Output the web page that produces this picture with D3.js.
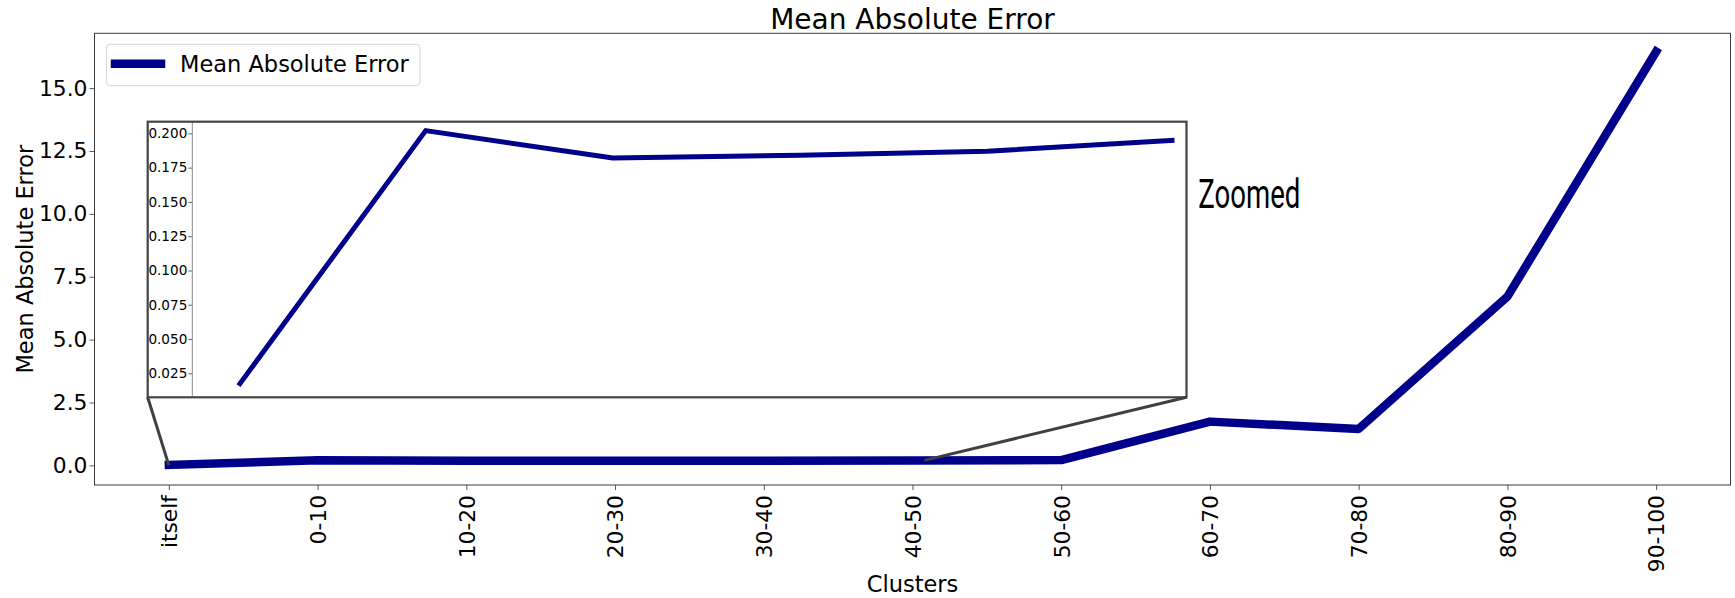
<!DOCTYPE html>
<html>
<head>
<meta charset="utf-8">
<script src="https://cdn.jsdelivr.net/npm/d3@7"></script>
<style>
  html, body { margin: 0; padding: 0; background: #fff; }
  svg { display: block; font-family: "DejaVu Sans", sans-serif; }
</style>
</head>
<body>
<svg id="chart" width="1735" height="598"></svg>
<script>
// Cluster buckets along the x axis
const categories = ["itself", "0-10", "10-20", "20-30", "30-40", "40-50",
                    "50-60", "60-70", "70-80", "80-90", "90-100"];
// Mean absolute error per cluster
const maeValues = [0.016, 0.202, 0.182, 0.184, 0.187, 0.195,
                   0.21, 1.74, 1.45, 6.71, 16.45];
// Main y-axis ticks
const yTicks = [0, 2.5, 5, 7.5, 10, 12.5, 15];
// Inset: the first clusters, magnified
const insetCount = 6;
const insetTicks = [0.025, 0.05, 0.075, 0.1, 0.125, 0.15, 0.175, 0.2];
// Region of the main axes that the inset magnifies (data units)
const zoomRegion = { x0: 0, y0: 0, x1: 5.08, y1: 0.2 };

const lineColor = "#00008b";
const svg = d3.select("#chart");

// ---- main axes -------------------------------------------------------
const plot = { left: 94.5, right: 1730.5, top: 33.3, bottom: 485 };
const x = d3.scaleLinear().domain([-0.5, 10.5]).range([plot.left, plot.right]);
const y = d3.scaleLinear().domain([-0.78, 17.18]).range([plot.bottom, plot.top]);

// frame
svg.append("rect")
  .attr("x", plot.left).attr("y", plot.top)
  .attr("width", plot.right - plot.left).attr("height", plot.bottom - plot.top)
  .attr("fill", "none").attr("stroke", "#3a3a3a").attr("stroke-width", 1);

// x axis
const xAxis = svg.append("g")
  .attr("transform", `translate(0,${plot.bottom})`)
  .call(d3.axisBottom(x).tickValues(d3.range(categories.length))
          .tickFormat(i => categories[i]).tickSize(5).tickSizeOuter(0));
xAxis.select(".domain").remove();
xAxis.selectAll(".tick line").attr("stroke", "#555");
xAxis.selectAll(".tick text")
  .attr("transform", "rotate(-90)")
  .attr("text-anchor", "end")
  .attr("x", -10).attr("y", 0).attr("dy", "0.36em")
  .attr("font-size", 21.8).attr("fill", "#000")
  .attr("font-family", "DejaVu Sans");

// y axis
const yAxis = svg.append("g")
  .attr("transform", `translate(${plot.left},0)`)
  .call(d3.axisLeft(y).tickValues(yTicks).tickFormat(d3.format(".1f"))
          .tickSize(5).tickPadding(2).tickSizeOuter(0));
yAxis.select(".domain").remove();
yAxis.selectAll(".tick line").attr("stroke", "#555");
yAxis.selectAll(".tick text")
  .attr("font-size", 21.8).attr("fill", "#000")
  .attr("font-family", "DejaVu Sans");

// main series
const mainLine = d3.line().x((d, i) => x(i)).y(d => y(d));
svg.append("path")
  .datum(maeValues)
  .attr("d", mainLine)
  .attr("fill", "none")
  .attr("stroke", lineColor)
  .attr("stroke-width", 8.5)
  .attr("stroke-linejoin", "round")
  .attr("stroke-linecap", "square");

// ---- inset -----------------------------------------------------------
const box = { left: 147.7, right: 1186.5, top: 121.7, bottom: 397.3 };
const insetSpineX = 192.3;
const ix = d3.scaleLinear().domain([0, insetCount - 1]).range([238.5, 1174.5]);
const iy = d3.scaleLinear().domain([0.0075, 0.2085]).range([box.bottom, box.top]);

svg.append("defs").append("clipPath").attr("id", "insetClip")
  .append("rect")
  .attr("x", box.left).attr("y", box.top)
  .attr("width", box.right - box.left).attr("height", box.bottom - box.top);

svg.append("rect")
  .attr("x", box.left).attr("y", box.top)
  .attr("width", box.right - box.left).attr("height", box.bottom - box.top)
  .attr("fill", "#fff");

const inset = svg.append("g").attr("clip-path", "url(#insetClip)");

inset.append("line")
  .attr("x1", insetSpineX).attr("x2", insetSpineX)
  .attr("y1", box.top).attr("y2", box.bottom)
  .attr("stroke", "#8a8a8a").attr("stroke-width", 1);

const insetAxis = inset.append("g")
  .attr("transform", `translate(${insetSpineX},0)`)
  .call(d3.axisLeft(iy).tickValues(insetTicks).tickFormat(d3.format(".3f"))
          .tickSize(4).tickPadding(1).tickSizeOuter(0));
insetAxis.select(".domain").remove();
insetAxis.selectAll(".tick line").attr("stroke", "#666");
insetAxis.selectAll(".tick text")
  .attr("font-size", 13.6).attr("fill", "#000")
  .attr("font-family", "DejaVu Sans");

const insetLine = d3.line().x((d, i) => ix(i)).y(d => iy(d));
inset.append("path")
  .datum(maeValues.slice(0, insetCount))
  .attr("d", insetLine)
  .attr("fill", "none")
  .attr("stroke", lineColor)
  .attr("stroke-width", 5)
  .attr("stroke-linejoin", "round")
  .attr("stroke-linecap", "butt");

// inset border
svg.append("rect")
  .attr("x", box.left).attr("y", box.top)
  .attr("width", box.right - box.left).attr("height", box.bottom - box.top)
  .attr("fill", "none").attr("stroke", "#444").attr("stroke-width", 2.2);

// connector lines from the inset to the magnified region
const connectors = [
  [[box.left, box.bottom], [x(zoomRegion.x0), y(zoomRegion.y0)]],
  [[box.right, box.bottom], [x(zoomRegion.x1), y(zoomRegion.y1)]]
];
svg.selectAll("line.connector")
  .data(connectors)
  .join("line")
  .attr("class", "connector")
  .attr("x1", d => d[0][0]).attr("y1", d => d[0][1])
  .attr("x2", d => d[1][0]).attr("y2", d => d[1][1])
  .attr("stroke", "#404040").attr("stroke-width", 3);

// "Zoomed" annotation
svg.append("text")
  .attr("x", 1198.3).attr("y", 207.8)
  .attr("font-family", "Roboto, sans-serif")
  .attr("font-weight", 400)
  .attr("font-size", 40.5)
  .attr("textLength", 102)
  .attr("lengthAdjust", "spacingAndGlyphs")
  .attr("fill", "#000")
  .text("Zoomed");

// ---- legend ----------------------------------------------------------
const legend = svg.append("g");
legend.append("rect")
  .attr("x", 106.4).attr("y", 44.3).attr("width", 313.6).attr("height", 41.4)
  .attr("rx", 4).attr("fill", "#fff").attr("fill-opacity", 0.8)
  .attr("stroke", "#d6d6d6").attr("stroke-width", 1);
legend.append("line")
  .attr("x1", 115).attr("x2", 161).attr("y1", 63.8).attr("y2", 63.8)
  .attr("stroke", lineColor).attr("stroke-width", 8.5).attr("stroke-linecap", "square");
legend.append("text")
  .attr("x", 180).attr("y", 71.7)
  .attr("font-size", 22.5).attr("fill", "#000")
  .text("Mean Absolute Error");

// ---- titles ----------------------------------------------------------
svg.append("text")
  .attr("x", (plot.left + plot.right) / 2).attr("y", 29)
  .attr("text-anchor", "middle").attr("font-size", 28).attr("fill", "#000")
  .text("Mean Absolute Error");

svg.append("text")
  .attr("transform", `translate(32.5,${(plot.top + plot.bottom) / 2}) rotate(-90)`)
  .attr("text-anchor", "middle").attr("font-size", 22.5).attr("fill", "#000")
  .text("Mean Absolute Error");

svg.append("text")
  .attr("x", (plot.left + plot.right) / 2).attr("y", 592)
  .attr("text-anchor", "middle").attr("font-size", 22.5).attr("fill", "#000")
  .text("Clusters");
</script>
</body>
</html>
